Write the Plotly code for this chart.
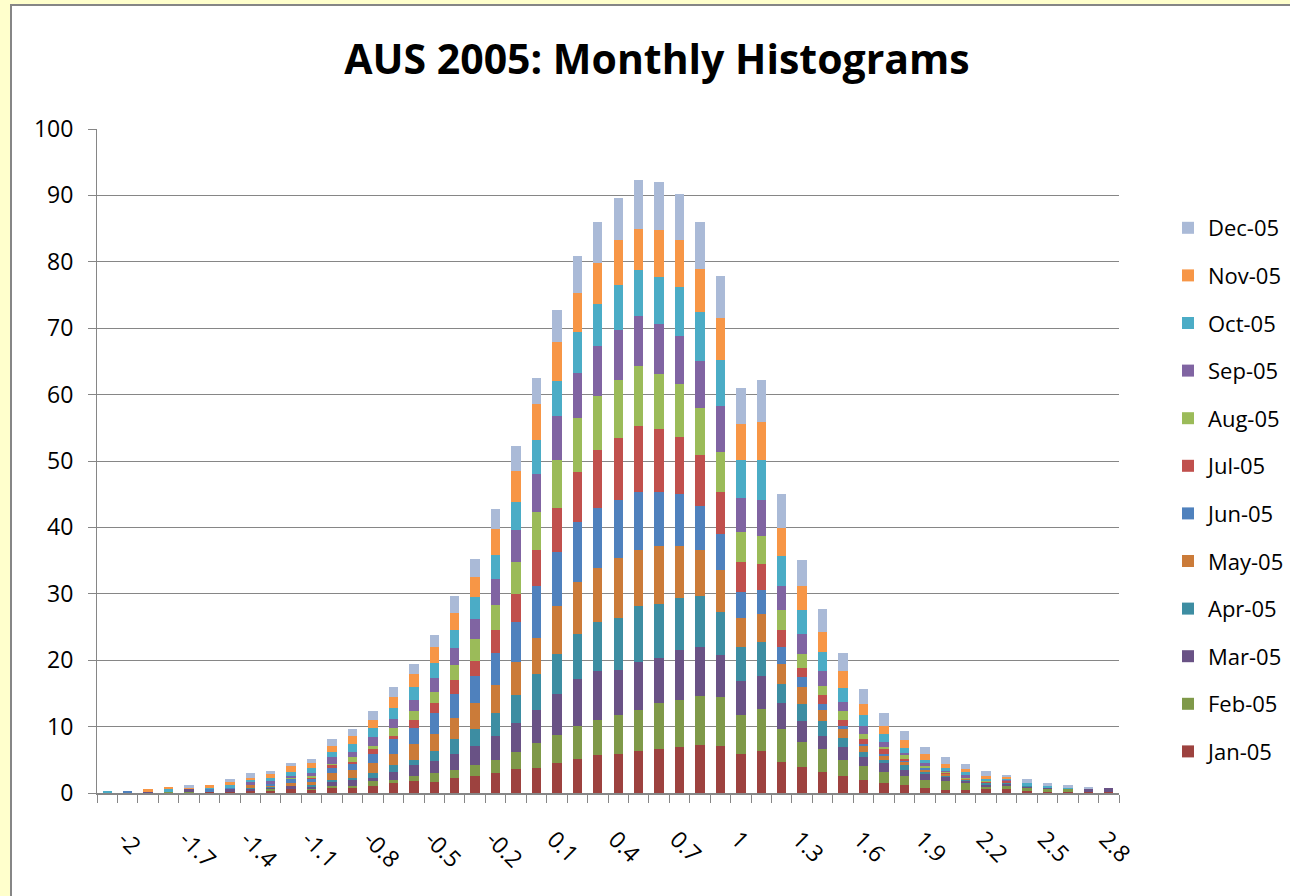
import plotly.graph_objects as go

# Histogram bins (x categories)
bins = [-2.1, -2.0, -1.9, -1.8, -1.7, -1.6, -1.5, -1.4, -1.3, -1.2,
        -1.1, -1.0, -0.9, -0.8, -0.7, -0.6, -0.5, -0.4, -0.3, -0.2,
        -0.1, 0.0, 0.1, 0.2, 0.3, 0.4, 0.5, 0.6, 0.7, 0.8,
        0.9, 1.0, 1.1, 1.2, 1.3, 1.4, 1.5, 1.6, 1.7, 1.8,
        1.9, 2.0, 2.1, 2.2, 2.3, 2.4, 2.5, 2.6, 2.7, 2.8]

tick_vals = [-2, -1.7, -1.4, -1.1, -0.8, -0.5, -0.2, 0.1, 0.4, 0.7, 1.0, 1.3, 1.6, 1.9, 2.2, 2.5, 2.8]
tick_text = ["-2", "-1.7", "-1.4", "-1.1", "-0.8", "-0.5", "-0.2", "0.1", "0.4", "0.7", "1", "1.3", "1.6", "1.9", "2.2", "2.5", "2.8"]

months = ["Jan-05", "Feb-05", "Mar-05", "Apr-05", "May-05", "Jun-05",
          "Jul-05", "Aug-05", "Sep-05", "Oct-05", "Nov-05", "Dec-05"]

jan = [0, 0, 0, 0, 0, 0.3, 0.3, 0.45, 0.45, 0.6,
       0.6, 0.9, 0.9, 1.05, 1.5, 1.8, 1.65, 2.25, 2.55, 3.0,
       3.6, 3.8, 4.5, 5.1, 5.7, 5.9, 6.3, 6.6, 6.9, 7.2,
       7.1, 5.9, 6.3, 4.7, 3.9, 3.2, 2.6, 2.0, 1.5, 1.2,
       0.8, 0.45, 0.45, 0.6, 0.6, 0.3, 0.3, 0.3, 0.3, 0.2]
feb = [0, 0, 0, 0.3, 0.3, 0, 0, 0, 0.3, 0,
       0.15, 0.15, 0.15, 0.75, 0.45, 0.75, 1.35, 1.2, 1.65, 1.95,
       2.6, 3.7, 4.2, 5.0, 5.3, 5.8, 6.2, 7.0, 7.1, 7.4,
       7.4, 5.8, 6.4, 4.9, 3.8, 3.4, 2.4, 2.1, 1.7, 1.4,
       1.2, 1.35, 1.05, 0.45, 0.45, 0.6, 0.3, 0.3, 0, 0]
mar = [0, 0, 0.3, 0, 0.3, 0, 0.3, 0.3, 0.15, 0.45,
       0.3, 0.75, 1.05, 0.45, 1.2, 1.65, 1.8, 2.4, 2.85, 3.6,
       4.3, 5.0, 6.2, 7.1, 7.4, 6.8, 7.2, 6.7, 7.5, 7.4,
       6.3, 5.2, 4.9, 4.0, 3.1, 2.0, 1.9, 1.3, 1.3, 0.9,
       1.0, 0.75, 0.45, 0.3, 0.45, 0.05, 0.3, 0, 0.3, 0.5]
apr = [0, 0, 0, 0, 0, 0, 0, 0.15, 0.15, 0,
       0.15, 0.15, 0.2, 0.75, 1.05, 0.75, 1.5, 2.25, 2.55, 3.45,
       4.3, 5.4, 6.0, 6.7, 7.4, 7.9, 8.5, 8.2, 7.9, 7.7,
       6.5, 5.1, 5.1, 2.8, 2.6, 2.2, 1.4, 0.8, 0.5, 0.7,
       0.3, 0.15, 0.1, 0.2, 0.05, 0.15, 0, 0, 0, 0]
may = [0, 0, 0, 0, 0, 0, 0, 0.3, 0.15, 0.45,
       0.6, 1.05, 1.15, 1.5, 1.65, 2.4, 2.55, 3.15, 3.9, 4.2,
       5.0, 5.4, 7.3, 7.9, 8.1, 9.0, 8.4, 8.7, 7.8, 6.9,
       6.3, 4.4, 4.3, 3.0, 2.6, 1.7, 1.3, 1.0, 0.7, 0.6,
       0.3, 0.2, 0.1, 0.05, 0.05, 0, 0, 0, 0, 0]
jun = [0, 0.3, 0, 0, 0, 0.3, 0.3, 0, 0.3, 0.6,
       0.3, 0.75, 1.05, 1.35, 2.25, 2.4, 3.15, 3.6, 4.05, 4.95,
       6.0, 7.9, 8.1, 9.0, 9.0, 8.7, 8.7, 8.1, 7.8, 6.6,
       5.4, 3.9, 3.6, 2.6, 1.5, 0.9, 0.5, 0.2, 0.2, 0.05,
       0.2, 0.05, 0.05, 0.05, 0.05, 0, 0, 0, 0, 0]
jul = [0, 0, 0, 0, 0, 0, 0, 0, 0, 0,
       0.3, 0.5, 0.15, 0.75, 0.45, 1.2, 1.5, 2.1, 2.4, 3.45,
       4.2, 5.4, 6.6, 7.5, 8.8, 9.4, 10.0, 9.5, 8.6, 7.7,
       6.3, 4.5, 3.9, 2.5, 1.3, 1.4, 0.9, 0.7, 0.7, 0.2,
       0.1, 0.1, 0.05, 0.15, 0.2, 0, 0, 0, 0, 0]
aug = [0, 0, 0, 0, 0, 0, 0, 0, 0, 0.3,
       0.15, 0.15, 0.75, 0.45, 1.2, 1.35, 1.65, 2.4, 3.3, 3.75,
       4.8, 5.7, 7.3, 8.2, 8.1, 8.7, 9.0, 8.3, 8.0, 7.1,
       6.1, 4.5, 4.2, 3.1, 2.1, 1.3, 1.3, 0.8, 0.3, 0.7,
       0.3, 0.2, 0.15, 0.05, 0.05, 0, 0, 0, 0, 0]
sep = [0, 0, 0, 0, 0, 0, 0, 0.45, 0.3, 0.15,
       0.45, 1.05, 0.75, 1.35, 1.35, 1.65, 2.1, 2.55, 3.0, 3.9,
       4.8, 5.7, 6.6, 6.8, 7.5, 7.5, 7.5, 7.5, 7.2, 7.1,
       6.9, 5.1, 5.4, 3.6, 3.0, 2.3, 1.4, 1.2, 0.8, 0.2,
       0.3, 0.2, 0.3, 0.1, 0.15, 0, 0, 0, 0, 0]
oct_ = [0.3, 0, 0, 0.3, 0, 0.3, 0.3, 0.45, 0.45, 0.6,
        0.75, 0.75, 1.2, 1.35, 1.65, 1.95, 2.4, 2.7, 3.3, 3.6,
        4.3, 5.2, 5.2, 6.1, 6.3, 6.8, 7.0, 7.1, 7.4, 7.3,
        6.9, 5.8, 6.1, 4.5, 3.7, 2.8, 2.1, 1.6, 1.2, 0.9,
        0.5, 0.3, 0.45, 0.3, 0.1, 0.45, 0.15, 0.3, 0, 0]
nov = [0, 0, 0.3, 0.3, 0.3, 0.3, 0.6, 0.15, 0.75, 1.05,
       0.75, 0.9, 1.2, 1.2, 1.65, 1.95, 2.4, 2.55, 3.0, 3.9,
       4.6, 5.4, 5.9, 5.9, 6.2, 6.8, 6.1, 7.1, 7.1, 6.5,
       6.3, 5.4, 5.7, 4.2, 3.6, 3.0, 2.6, 1.7, 1.2, 1.2,
       0.9, 0.6, 0.45, 0.3, 0.3, 0, 0, 0, 0, 0]
dec = [0, 0, 0, 0, 0.3, 0, 0.3, 0.75, 0.3, 0.3,
       0.6, 1.05, 1.05, 1.35, 1.5, 1.65, 1.8, 2.55, 2.7, 3.0,
       3.8, 3.9, 4.8, 5.6, 6.2, 6.3, 7.4, 7.2, 6.9, 7.1,
       6.4, 5.4, 6.3, 5.1, 3.9, 3.5, 2.7, 2.3, 1.9, 1.3,
       1.0, 1.05, 0.75, 0.7, 0.3, 0.6, 0.45, 0.3, 0.3, 0]

series = [jan, feb, mar, apr, may, jun, jul, aug, sep, oct_, nov, dec]
colors = ["#9D423F", "#7F9949", "#695285", "#3D8DA2", "#CB7B39", "#4F81BD",
          "#C0504D", "#9BBB59", "#8064A2", "#4BACC6", "#F79646", "#AABAD7"]

FONT = "Open Sans"
W, H = 1290, 896
ML, MR, MT, MB = 97, 171, 129, 103
PW, PH = W - ML - MR, H - MT - MB

fig = go.Figure()
n = len(months)
for i, (name, vals, col) in enumerate(zip(months, series, colors)):
    fig.add_trace(go.Bar(x=bins, y=vals, name=name, legendgroup=name,
                         legendrank=n - i,
                         marker=dict(color=col, line=dict(width=0))))

def px_to_paper_x(px):
    return (px - ML) / PW

def px_to_paper_y(py):
    return (H - MB - py) / PH

fig.update_layout(
    width=W, height=H,
    margin=dict(l=ML, r=MR, t=MT, b=MB, autoexpand=False),
    barmode="stack", bargap=0.54,
    paper_bgcolor="#FFFFCC", plot_bgcolor="rgba(0,0,0,0)",
    font=dict(family=FONT, size=22, color="#000000"),
    title=dict(text="AUS 2005: Monthly Histograms", x=657 / W, xref="container",
               xanchor="center", y=1 - 60 / H, yref="container", yanchor="middle",
               font=dict(family=FONT, size=41, color="#000000", weight="bold")),
    xaxis=dict(range=[-2.15, 2.85], tickmode="array", tickvals=tick_vals, ticktext=tick_text,
               tickangle=45, ticks="", showgrid=False, zeroline=False,
               showline=True, linecolor="#868686", linewidth=1.5,
               tickfont=dict(family=FONT, size=23),
               ticklabelshift=-3, ticklabelstandoff=22,
               minor=dict(tickmode="linear", tick0=-2.15, dtick=0.1, ticks="outside",
                          ticklen=8, tickcolor="#868686", tickwidth=1, showgrid=False)),
    yaxis=dict(range=[0, 100], dtick=10, showgrid=True, gridcolor="#868686", gridwidth=1,
               zeroline=False, showline=True, linecolor="#868686", linewidth=1,
               ticks="outside", ticklen=8, tickcolor="#868686",
               tickfont=dict(family=FONT, size=23), ticklabelstandoff=10),
    legend=dict(x=px_to_paper_x(1168), xanchor="left", y=px_to_paper_y(490), yanchor="middle",
                traceorder="grouped", tracegroupgap=16,
                font=dict(family=FONT, size=22, color="#000000"),
                bgcolor="rgba(0,0,0,0)", itemwidth=30),
    shapes=[dict(type="rect", xref="paper", yref="paper", layer="below",
                 x0=px_to_paper_x(11), x1=px_to_paper_x(1310),
                 y0=px_to_paper_y(910), y1=px_to_paper_y(5),
                 fillcolor="#FFFFFF", line=dict(color="#868686", width=2))],
)

fig.write_html("out.html",
               config={"displayModeBar": False},
               post_script="document.body.style.margin='0';"
                           "document.body.style.background='#FFFFCC';")
